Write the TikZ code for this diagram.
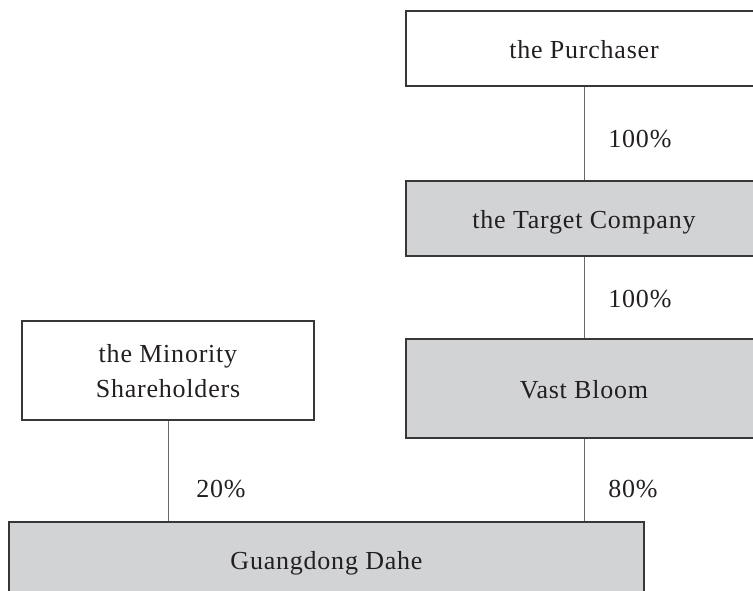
\documentclass[tikz,border=0pt]{standalone}
\usepackage{fontspec}
\newfontfamily\chartfont{Liberation Serif}[LetterSpace=3]
\usepackage{tikz}
\usetikzlibrary{calc}

\definecolor{boxgrey}{RGB}{210,211,213}
\definecolor{edgegrey}{RGB}{55,55,55}
\definecolor{linkgrey}{RGB}{105,105,105}
\definecolor{inkblack}{RGB}{35,31,32}

\tikzset{
  boxed/.style={draw=edgegrey, line width=1.2pt, text=inkblack, align=center,
    font=\chartfont\fontsize{26}{35}\selectfont, inner sep=0pt},
  entity/.style={boxed, text height=25pt, text depth=5.4pt},
  owned/.style={entity, fill=boxgrey},
  link/.style={draw=linkgrey, line width=0.9pt},
  pct/.style={anchor=west, inner sep=0pt, xshift=24pt, text=inkblack,
    font=\chartfont\fontsize{26}{30}\selectfont}
}

\begin{document}
\begin{tikzpicture}[x=1pt,y=-1pt]
  \useasboundingbox (0,0) rectangle (753,591);
  \clip (0,0) rectangle (753,591);

  \node[entity, minimum width=356pt, minimum height=75pt] (purchaser) at (584,48.5) {the Purchaser};
  \node[owned, minimum width=356pt, minimum height=75pt] (target) at (584,218.5) {the Target Company};
  \node[owned, minimum width=356pt, minimum height=99pt] (vast) at (584,388.5) {Vast Bloom};
  \node[boxed, minimum width=292pt, minimum height=99pt] (minority) at (168,370.5) {\rule{0pt}{20pt}the Minority\\Shareholders};
  \node[owned, minimum width=635pt, minimum height=76pt] (dahe) at (326.5,560) {Guangdong Dahe};

  \path[link] (purchaser.south) -- node[pct, pos=0.56]{100\%} (target.north);
  \path[link] (target.south) -- node[pct, pos=0.52]{100\%} (vast.north);
  \path[link] (vast.south) -- node[pct, pos=0.61]{80\%} (vast.south |- dahe.north);
  \path[link] (minority.south) -- node[pct, pos=0.68, xshift=4pt]{20\%} (minority.south |- dahe.north);
\end{tikzpicture}
\end{document}
